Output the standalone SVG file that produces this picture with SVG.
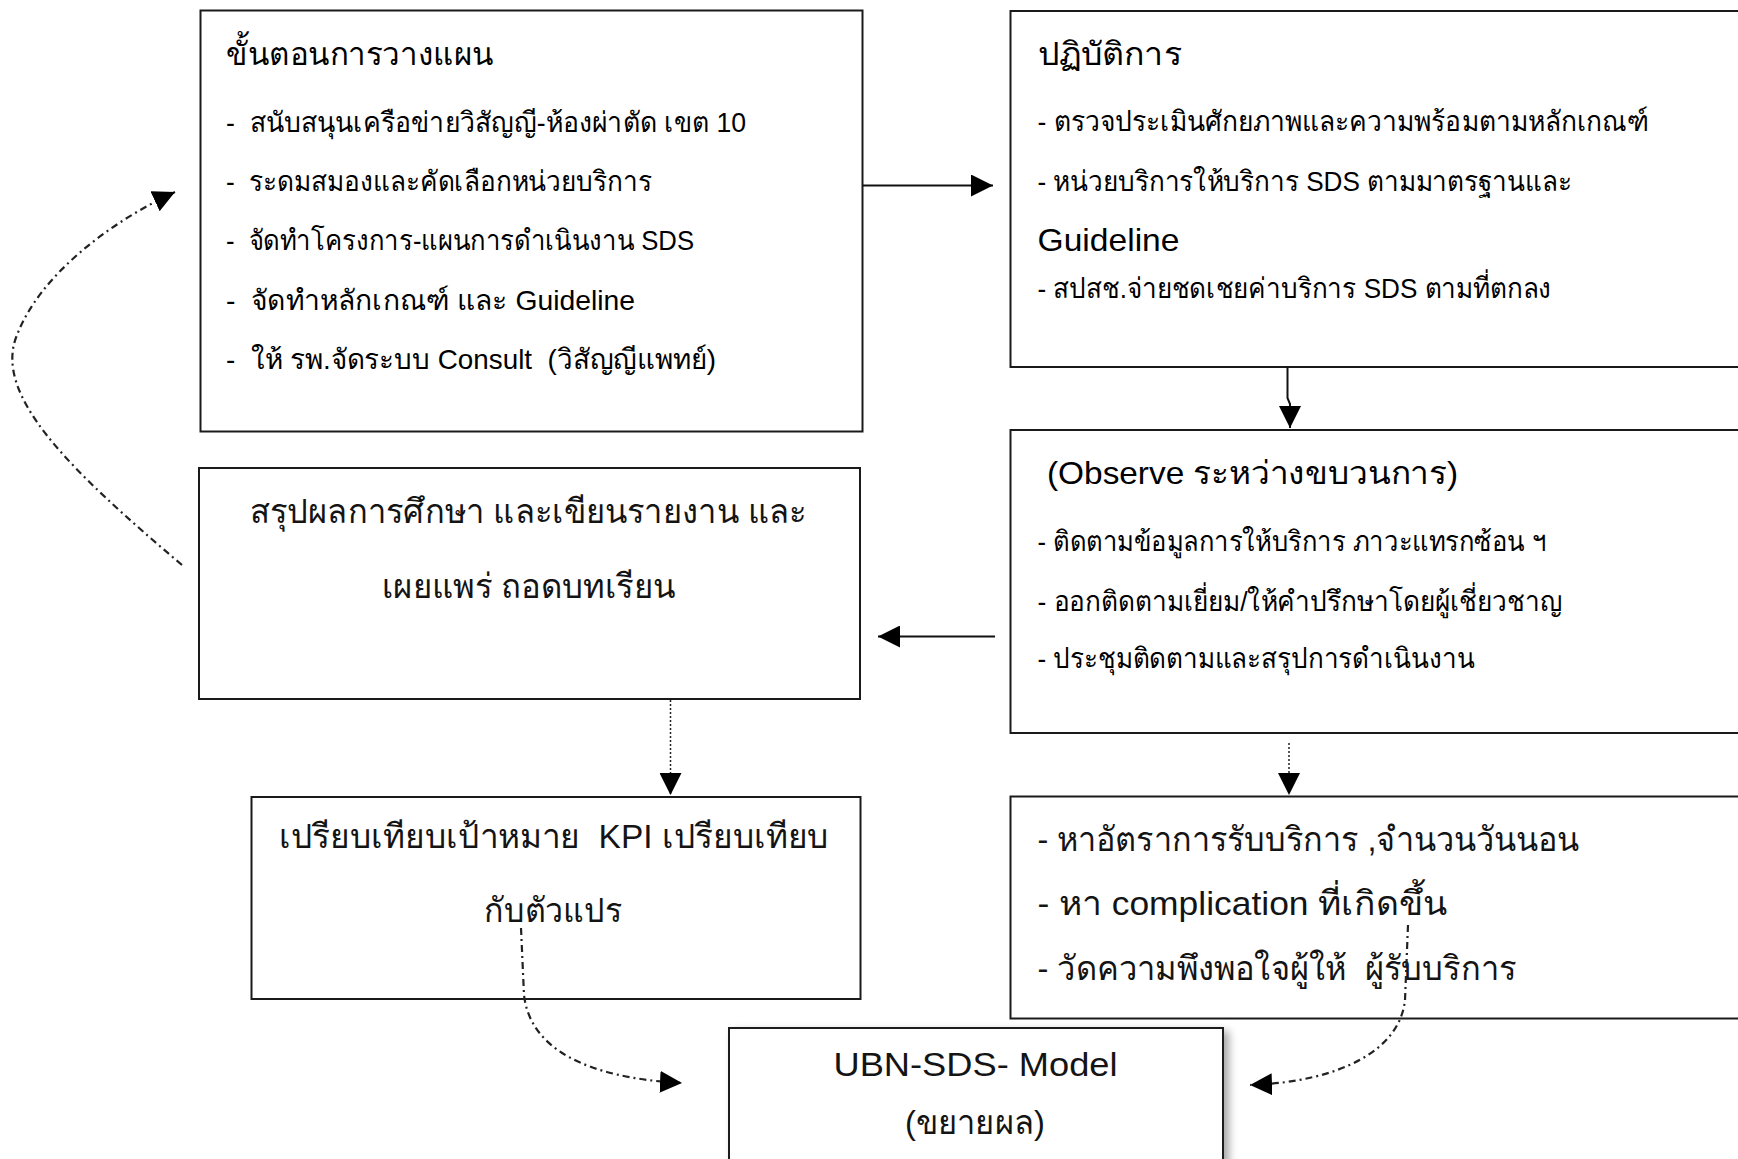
<svg xmlns="http://www.w3.org/2000/svg" width="1738" height="1159" viewBox="0 0 1738 1159">
<style>
.box{fill:#fff;stroke:#1a1a1a;stroke-width:2}
.t{font-family:"Liberation Sans","Noto Sans",sans-serif;fill:#000}
.s{font-size:28px}
.h{font-size:32px}
.b{font-size:34px;fill:#141414}
.solid{fill:none;stroke:#111;stroke-width:2}
.dot{fill:none;stroke:#222;stroke-width:1.5;stroke-dasharray:2 2}
.dd{fill:none;stroke:#222;stroke-width:2.2;stroke-dasharray:7 4 2 4}
</style>
<defs>
<marker id="ah" markerUnits="userSpaceOnUse" markerWidth="22" markerHeight="22" viewBox="0 0 20 20" refX="20" refY="10" orient="auto">
<path d="M0,0 L20,10 L0,20 z" fill="#000"/>
</marker>
<filter id="sh" x="-10%" y="-10%" width="130%" height="130%">
<feDropShadow dx="5" dy="4" stdDeviation="4" flood-color="#000" flood-opacity="0.35"/>
</filter>
</defs>
<rect width="1738" height="1159" fill="#fff"/>

<g id="node-planning">
<rect class="box" x="200.5" y="10.5" width="662" height="421"/>
<text class="t h" x="226" y="65" textLength="268" lengthAdjust="spacingAndGlyphs">ขั้นตอนการวางแผน</text>
<text class="t s" x="226" y="132" textLength="520" lengthAdjust="spacingAndGlyphs">-&#160;&#160;สนับสนุนเครือข่ายวิสัญญี-ห้องผ่าตัด เขต 10</text>
<text class="t s" x="226" y="191" textLength="426" lengthAdjust="spacingAndGlyphs">-&#160;&#160;ระดมสมองและคัดเลือกหน่วยบริการ</text>
<text class="t s" x="226" y="250" textLength="468" lengthAdjust="spacingAndGlyphs">-&#160;&#160;จัดทำโครงการ-แผนการดำเนินงาน SDS</text>
<text class="t s" x="226" y="310" textLength="409" lengthAdjust="spacingAndGlyphs">-&#160;&#160;จัดทำหลักเกณฑ์ และ Guideline</text>
<text class="t s" x="226" y="369" textLength="490" lengthAdjust="spacingAndGlyphs">-&#160;&#160;ให้ รพ.จัดระบบ Consult&#160; (วิสัญญีแพทย์)</text>
</g>

<g id="node-operation">
<rect class="box" x="1010.5" y="11" width="740" height="356"/>
<text class="t h" x="1037.5" y="65" textLength="144" lengthAdjust="spacingAndGlyphs">ปฏิบัติการ</text>
<text class="t s" x="1037.5" y="131" textLength="611" lengthAdjust="spacingAndGlyphs">- ตรวจประเมินศักยภาพและความพร้อมตามหลักเกณฑ์</text>
<text class="t s" x="1037.5" y="191" textLength="534" lengthAdjust="spacingAndGlyphs">- หน่วยบริการให้บริการ SDS ตามมาตรฐานและ</text>
<text class="t h" x="1037.5" y="251" textLength="142" lengthAdjust="spacingAndGlyphs">Guideline</text>
<text class="t s" x="1037.5" y="298" textLength="514" lengthAdjust="spacingAndGlyphs">- สปสช.จ่ายชดเชยค่าบริการ SDS ตามที่ตกลง</text>
</g>

<g id="node-observe">
<rect class="box" x="1010.5" y="430" width="740" height="303"/>
<text class="t h" x="1047" y="484" textLength="411" lengthAdjust="spacingAndGlyphs">(Observe ระหว่างขบวนการ)</text>
<text class="t s" x="1037.5" y="551" textLength="509" lengthAdjust="spacingAndGlyphs">- ติดตามข้อมูลการให้บริการ ภาวะแทรกซ้อน ฯ</text>
<text class="t s" x="1037.5" y="611" textLength="525" lengthAdjust="spacingAndGlyphs">- ออกติดตามเยี่ยม/ให้คำปรึกษาโดยผู้เชี่ยวชาญ</text>
<text class="t s" x="1037.5" y="668" textLength="437" lengthAdjust="spacingAndGlyphs">- ประชุมติดตามและสรุปการดำเนินงาน</text>
</g>

<g id="node-summary">
<rect class="box" x="199" y="468" width="661" height="231"/>
<text class="t b" x="528" y="523" text-anchor="middle" textLength="557" lengthAdjust="spacingAndGlyphs">สรุปผลการศึกษา และเขียนรายงาน และ</text>
<text class="t b" x="528.5" y="598" text-anchor="middle" textLength="294" lengthAdjust="spacingAndGlyphs">เผยแพร่ ถอดบทเรียน</text>
</g>

<g id="node-compare">
<rect class="box" x="251.5" y="797" width="609" height="202"/>
<text class="t b" x="554" y="848" text-anchor="middle" textLength="550" lengthAdjust="spacingAndGlyphs">เปรียบเทียบเป้าหมาย&#160; KPI เปรียบเทียบ</text>
<text class="t b" x="553" y="922" text-anchor="middle" textLength="138" lengthAdjust="spacingAndGlyphs">กับตัวแปร</text>
</g>

<g id="node-outcome">
<rect class="box" x="1010.5" y="796.5" width="740" height="222"/>
<text class="t b" x="1037.5" y="851" textLength="541" lengthAdjust="spacingAndGlyphs">- หาอัตราการรับบริการ ,จำนวนวันนอน</text>
<text class="t b" x="1037.5" y="915" textLength="409" lengthAdjust="spacingAndGlyphs">- หา complication ที่เกิดขึ้น</text>
<text class="t b" x="1037.5" y="980" textLength="479" lengthAdjust="spacingAndGlyphs">- วัดความพึงพอใจผู้ให้&#160; ผู้รับบริการ</text>
</g>

<g id="node-model">
<rect class="box" x="729" y="1028" width="494" height="150" filter="url(#sh)"/>
<text class="t b" x="975.5" y="1076" text-anchor="middle" textLength="284" lengthAdjust="spacingAndGlyphs">UBN-SDS- Model</text>
<text class="t b" x="975" y="1134" text-anchor="middle" textLength="140" lengthAdjust="spacingAndGlyphs">(ขยายผล)</text>
</g>

<g id="connectors">
<line class="solid" x1="863" y1="185.5" x2="993" y2="185.5" marker-end="url(#ah)"/>
<path class="solid" d="M1287.5,367 L1287.5,398 L1290,404 L1290,428" marker-end="url(#ah)"/>
<line class="solid" x1="995" y1="636.5" x2="878" y2="636.5" marker-end="url(#ah)"/>
<line class="dot" x1="670.5" y1="700" x2="670.5" y2="795" marker-end="url(#ah)"/>
<line class="dot" x1="1289" y1="743" x2="1289" y2="795" marker-end="url(#ah)"/>
<path class="dd" d="M182,565 C70,470 -8,395 17,335 C40,275 110,222 175,192" marker-end="url(#ah)"/>
<path class="dd" d="M521,928 L524,995 C530,1048 585,1078 682,1083" marker-end="url(#ah)"/>
<path class="dd" d="M1408,925 L1405,1000 C1400,1050 1340,1082 1250,1085" marker-end="url(#ah)"/>
</g>
</svg>
